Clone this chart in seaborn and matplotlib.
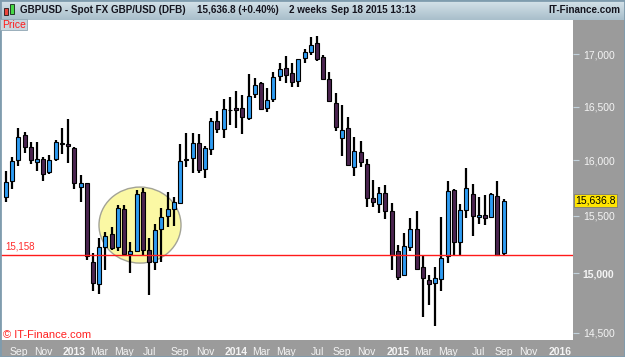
import matplotlib
matplotlib.use("Agg")
import matplotlib.pyplot as plt
from matplotlib.patches import Ellipse, Rectangle
import numpy as np
import pandas as pd
import seaborn as sns

# two-week candles, GBP/USD x 10000
first_bar = "2012-08-13"
opens = [15666, 15813, 16004, 16234, 16126, 15988, 16013, 15892, 16010, 16152,
         16152, 16112, 15762, 15792, 15096, 14908, 15231, 15339, 15223, 15559,
         15165, 15194, 15711, 15197, 15101, 15386, 15500, 15562, 15618, 16000,
         16025, 16155, 15922, 16102, 16368, 16289, 16465, 16483, 16483, 16395,
         16619, 16726, 16483, 16569, 16787, 16864, 16816, 16745, 16961, 17025,
         17107, 16971, 16761, 16536, 16209, 16302, 15943, 16074, 15967, 15657,
         15604, 15707, 15544, 15188, 14987, 15229, 15383, 15053, 14944, 14916,
         14950, 15150, 15732, 15275, 15553, 15696, 15489, 15509, 15494, 15678,
         15179]
highs = [15907, 16034, 16302, 16264, 16167, 16172, 16034, 16050, 16183, 16296,
         16380, 16120, 15867, 15798, 15174, 15304, 15355, 15406, 15598, 15598,
         15275, 15732, 15747, 15304, 15427, 15568, 15711, 15666, 16151, 16250,
         16250, 16243, 16133, 16391, 16461, 16571, 16593, 16650, 16609, 16810,
         16774, 16735, 16673, 16832, 16913, 16983, 16919, 16952, 17051, 17166,
         17182, 16993, 16832, 16625, 16515, 16399, 16218, 16179, 16010, 15822,
         15755, 15777, 15613, 15246, 15348, 15480, 15547, 15150, 14987, 15050,
         15488, 15813, 15741, 15604, 15928, 15786, 15672, 15687, 15702, 15813,
         15651]
lows = [15622, 15741, 15952, 16065, 15967, 15907, 15816, 15876, 15995, 16059,
        15979, 15741, 15627, 15116, 14845, 14825, 15030, 15203, 15194, 15159,
        15002, 15188, 15159, 14811, 15024, 15093, 15406, 15412, 15618, 15943,
        15882, 15882, 15837, 16050, 16250, 16204, 16327, 16296, 16243, 16374,
        16578, 16467, 16451, 16546, 16745, 16719, 16682, 16682, 16913, 16993,
        16938, 16752, 16546, 16273, 16041, 15949, 15861, 15937, 15577, 15583,
        15529, 15471, 15030, 14944, 14978, 15188, 15026, 14630, 14733, 14559,
        14851, 15087, 15159, 15159, 15480, 15324, 15427, 15421, 15485, 15159,
        15159]
closes = [15801, 15998, 16218, 16126, 16004, 16010, 15876, 16004, 16167, 16161,
          16133, 15792, 15792, 15153, 14916, 15226, 15327, 15217, 15574, 15165,
          15194, 15696, 15197, 15101, 15377, 15489, 15559, 15627, 15995, 16009,
          16155, 15913, 16114, 16368, 16289, 16474, 16470, 16467, 16399, 16602,
          16704, 16474, 16562, 16778, 16858, 16800, 16736, 16952, 17019, 17091,
          16954, 16761, 16556, 16311, 16280, 15958, 16086, 15988, 15657, 15627,
          15707, 15544, 15155, 14970, 15240, 15386, 15034, 14959, 14908, 14958,
          15131, 15723, 15275, 15553, 15747, 15503, 15509, 15480, 15693, 15159,
          15636.8]
support = 15158
last_price = 15636.8
y_ticks = [14500, 15000, 15500, 16000, 16500, 17000]

W, H = 625, 357
BLUE = "#2e9cf3"
PURPLE = "#4b2450"
PANEL = "#9b9b9b"

sns.set_theme(style="white")
plt.rcParams["font.family"] = ["Liberation Sans", "DejaVu Sans"]

df = pd.DataFrame({"open": opens, "high": highs, "low": lows, "close": closes})
df["date"] = pd.date_range(first_bar, periods=len(df), freq="14D")
up = df["close"] >= df["open"]

fig = plt.figure(figsize=(W / 100, H / 100), dpi=100, facecolor=PANEL)
ax = fig.add_axes([1 / W, 17 / H, 572 / W, 321 / H])
ax.set_facecolor("white")

# highlight circle behind the candles
ax.add_patch(Ellipse((0.243, 0.358), 0.1434, 0.2368, transform=ax.transAxes,
                     facecolor="#fbf8a4", edgecolor="#a3a396", lw=1.0, zorder=1))

ax.vlines(df["date"], df["low"], df["high"], color="black", lw=1.6, zorder=2)
for mask, col in [(up, BLUE), (~up, PURPLE)]:
    d = df[mask]
    ax.bar(d["date"], (d["close"] - d["open"]).abs().clip(lower=6),
           bottom=d[["open", "close"]].min(axis=1), width=9,
           color=col, edgecolor="black", lw=0.8, zorder=3)

ax.axhline(support, color="#ff1a1a", lw=1.0, zorder=4)
ax.text(0.008, support * 1.002, f"{support:,}", transform=ax.get_yaxis_transform(),
        color="#ff2a2a", fontsize=7, va="bottom", ha="left")

ax.set_yscale("log")
ax.set_ylim(14439, 17346)
ax.set_xlim(pd.Timestamp("2012-08-02"), pd.Timestamp("2016-02-10"))

ax.yaxis.tick_right()
ax.set_yticks(y_ticks)
ax.yaxis.set_minor_locator(matplotlib.ticker.NullLocator())
ax.set_yticklabels([f"{v:,}" for v in y_ticks])
for lab, v in zip(ax.get_yticklabels(), y_ticks):
    if v == 15000:
        lab.set_fontweight("bold")

# month ticks sit on the first bar of each odd month
grid = pd.Series(pd.date_range(first_bar, "2016-02-01", freq="14D"))
per = grid.dt.to_period("M")
firsts = grid[(per != per.shift()) & (grid.dt.month % 2 == 1)]
ax.set_xticks(firsts)
ax.set_xticklabels([str(d.year) if d.month == 1 else d.strftime("%b") for d in firsts])
for lab, d in zip(ax.get_xticklabels(), firsts):
    if d.month == 1:
        lab.set_fontweight("bold")

ax.tick_params(axis="both", which="major", labelsize=7.5, colors="#c3d2dc",
               labelcolor="#f4f4f4", length=3, width=0.8, direction="out", pad=2)
ax.tick_params(axis="y", pad=3, length=4)
sns.despine(ax=ax, left=True, bottom=True, top=True, right=True)
ax.grid(False)

# current price tag
ax.text(1.004, last_price, f"{last_price:,.1f}", transform=ax.get_yaxis_transform(),
        fontsize=7.5, color="black", va="center", ha="left", clip_on=False, zorder=10,
        bbox=dict(boxstyle="square,pad=0.15", facecolor="#ffe500", edgecolor="#7a7a7a", lw=0.6))

# header bar
hax = fig.add_axes([0, 1 - 20 / H, 1, 20 / H])
grad = np.linspace(0, 1, 20).reshape(-1, 1)
hax.imshow(grad, aspect="auto", cmap=matplotlib.colors.LinearSegmentedColormap.from_list(
    "hdr", ["#d6e3ea", "#a9bfcb"]), extent=[0, 1, 0, 1], origin="upper")
hax.set_axis_off()

def px(x, y):
    return x / W, 1 - y / H

hdr = dict(fontsize=7.1, fontweight="bold", color="#14141e", va="center")
fig.text(*px(20, 10), "GBPUSD - Spot FX GBP/USD (DFB)", **hdr)
fig.text(*px(197, 10), f"{last_price:,.1f} (+0.40%)", **hdr)
fig.text(*px(289, 10), "2 weeks", **hdr)
fig.text(*px(331, 10), "Sep 18 2015 13:13", **hdr)
fig.text(*px(620, 10), "IT-Finance.com", ha="right", **hdr)

# small candle icon
fig.patches.append(Rectangle(px(4, 15), 4 / W, 7 / H, transform=fig.transFigure,
                             facecolor="#e8453c", edgecolor="black", lw=0.5))
fig.patches.append(Rectangle(px(10, 14), 4 / W, 10 / H, transform=fig.transFigure,
                             facecolor="#46d846", edgecolor="black", lw=0.5))

# "Price" tag
fig.patches.append(Rectangle(px(0, 30), 27 / W, 11 / H, transform=fig.transFigure,
                             facecolor="#c9d6de", edgecolor="#8fa5b3", lw=0.6, zorder=5))
fig.text(*px(2, 24.5), "Price", fontsize=7.5, color="#ff1a1a", va="center", zorder=6)

fig.text(*px(3, 335), "\u00a9 IT-Finance.com", fontsize=8, color="#ff2020", va="center")

# outer frame
fig.patches.append(Rectangle((0, 0), 1, 1, transform=fig.transFigure, fill=False,
                             edgecolor="#7f9cae", lw=2.0))

fig.savefig("out.png", dpi=100, facecolor=fig.get_facecolor())
